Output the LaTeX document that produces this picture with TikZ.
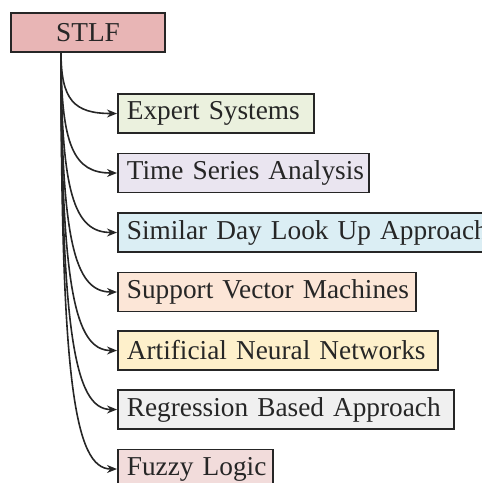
\documentclass[tikz,border=0pt]{standalone}
\usepackage{fontspec}
\setmainfont{Liberation Serif}
\usetikzlibrary{arrows.meta}
\definecolor{cstlf}{HTML}{E8B5B5}
\definecolor{cexp}{HTML}{EBF1DE}
\definecolor{ctime}{HTML}{EAE5F0}
\definecolor{csim}{HTML}{DBEEF4}
\definecolor{csvm}{HTML}{FCE6D7}
\definecolor{cann}{HTML}{FEF0CB}
\definecolor{creg}{HTML}{F0F0F0}
\definecolor{cfuz}{HTML}{F2DCDB}
\tikzset{
  box/.style={draw=black!85, line width=1.8pt, anchor=west, minimum height=39pt,
    inner xsep=9pt, inner ysep=0pt, align=left, text=black!85,
    font=\fontsize{27.3}{30}\selectfont},
  link/.style={line width=1.6pt, draw=black!85, -{Stealth[length=10pt,width=8pt]}}
}
\begin{document}
\begin{tikzpicture}[x=1pt,y=-1pt]
\useasboundingbox (0,0) rectangle (482,483);
\clip (0,0) rectangle (482,483);
\node[box, fill=cstlf, anchor=center, minimum width=154pt, inner xsep=0pt, align=center] (stlf) at (88,32.5) {STLF};
\coordinate (s) at (61,52);
\node[box, fill=cexp, text width=178pt] (n1) at (117,113.5) {\mbox{Expert Systems}};
\node[box, fill=ctime, text width=233pt] (n2) at (117,173) {\mbox{Time Series Analysis}};
\node[box, fill=csim, text width=380pt] (n3) at (117,232.5) {\mbox{Similar Day Look Up Approach}};
\node[box, fill=csvm, text width=280pt] (n4) at (117,292) {\mbox{Support Vector Machines}};
\node[box, fill=cann, text width=302pt] (n5) at (117,350.5) {\mbox{Artificial Neural Networks}};
\node[box, fill=creg, text width=318pt] (n6) at (117,409.5) {\mbox{Regression Based Approach}};
\node[box, fill=cfuz, text width=137pt] (n7) at (117,469) {\mbox{Fuzzy Logic}};
\foreach \i/\y in {1/113.5,2/173,3/232.5,4/292,5/350.5,6/409.5,7/469}{
  \draw[link] (s) .. controls (61,{52+0.78*(\y-52)}) and (74,\y) .. (n\i.west);
}
\end{tikzpicture}
\end{document}
